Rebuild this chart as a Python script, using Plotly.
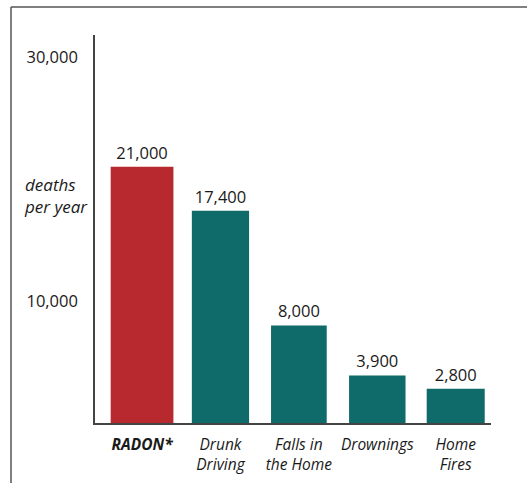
import plotly.graph_objects as go

categories = ["<b>RADON*</b>", "Drunk<br>Driving", "Falls in<br>the Home", "Drownings", "Home<br>Fires"]
deaths = [21000, 17400, 8000, 3900, 2800]
value_labels = ["21,000", "17,400", "8,000", "3,900", "2,800"]
tick_vals = [10000, 30000]
tick_text = ["10,000", "30,000"]
colors = ["#B8292F", "#0E6B69", "#0E6B69", "#0E6B69", "#0E6B69"]

FONT = "Open Sans"
TXT = "#1a1a1a"

fig = go.Figure()
fig.add_trace(go.Bar(
    x=list(range(len(categories))),
    y=deaths,
    marker=dict(color=colors, line=dict(width=0)),
    width=[0.8, 0.73, 0.71, 0.72, 0.74],
    text=value_labels,
    textposition="outside",
    textfont=dict(family=FONT, size=16.5, color=TXT),
    cliponaxis=False,
    hoverinfo="skip",
))

fig.update_layout(
    width=527, height=483,
    margin=dict(l=95, r=36, t=35, b=60),
    paper_bgcolor="white", plot_bgcolor="white",
    showlegend=False,
    font=dict(family=FONT, color=TXT),
    xaxis=dict(
        range=[-0.6, 4.45],
        tickvals=list(range(len(categories))),
        ticktext=[f"<i>{c}</i>" for c in categories],
        tickfont=dict(family=FONT, size=15.5, color=TXT),
        showgrid=False, zeroline=False,
        showline=True, linecolor="#444444", linewidth=2,
        ticks="", ticklabelstandoff=6, automargin=False,
    ),
    yaxis=dict(
        range=[0, 31800],
        tickvals=tick_vals,
        ticktext=tick_text,
        tickfont=dict(family=FONT, size=16.5, color=TXT),
        showgrid=False, zeroline=False,
        showline=True, linecolor="#444444", linewidth=1.5,
        ticks="", ticklabelstandoff=12, automargin=False,
    ),
)

# y-axis title
fig.add_annotation(
    xref="paper", yref="paper",
    x=(22 - 95) / 396, y=(423 - 195) / 388,
    xanchor="left", yanchor="middle", align="left",
    text="<i>deaths<br>per year</i>",
    showarrow=False,
    font=dict(family=FONT, size=17, color=TXT),
)

# frame lines
fig.add_shape(type="line", xref="paper", yref="paper",
              x0=(11 - 95) / 396, x1=(540 - 95) / 396,
              y0=(423 - 7) / 388, y1=(423 - 7) / 388,
              line=dict(color="#555555", width=1.5))
fig.add_shape(type="line", xref="paper", yref="paper",
              x0=(11 - 95) / 396, x1=(11 - 95) / 396,
              y0=(423 - 7) / 388, y1=(423 - 500) / 388,
              line=dict(color="#555555", width=1.5))

fig.write_html("out.html")
